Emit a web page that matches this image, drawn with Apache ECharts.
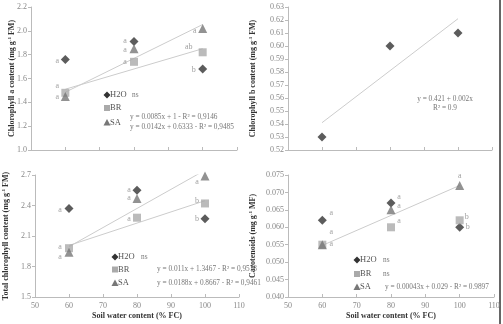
<!DOCTYPE html>
<html>
<head>
<meta charset="utf-8">
<script src="https://cdn.jsdelivr.net/npm/echarts@6/dist/echarts.min.js"></script>
<style>
html, body { margin: 0; padding: 0; background: #fff; }
#main { width: 503px; height: 324px; }
</style>
</head>
<body>
<div id="main"></div>
<script>
// soil water content levels (% FC)
var waterLevels = [60, 80, 100];
var fitX = [60, 100];

// chlorophyll a
var chlA_H2O = [1.76, 1.91, 1.68];
var chlA_BR = [1.48, 1.74, 1.82];
var chlA_SA = [1.45, 1.85, 2.02];
var chlA_H2O_sig = ['a', 'a', 'b'];
var chlA_BR_sig = ['a', 'a', 'ab'];
var chlA_SA_sig = ['a', 'a', 'a'];
var chlA_BR_fit = [1.51, 1.85];
var chlA_SA_fit = [1.485, 2.053];

// chlorophyll b
var chlB_H2O = [0.53, 0.60, 0.61];
var chlB_fit = [0.541, 0.621];

// total chlorophyll
var tot_H2O = [2.37, 2.55, 2.27];
var tot_BR = [1.98, 2.28, 2.42];
var tot_SA = [1.94, 2.47, 2.69];
var tot_H2O_sig = ['a', 'a', 'b'];
var tot_BR_sig = ['a', 'a', 'b'];
var tot_SA_sig = ['a', 'a', 'a'];
var tot_BR_fit = [2.007, 2.447];
var tot_SA_fit = [1.995, 2.747];

// carotenoids
var car_H2O = [0.062, 0.067, 0.060];
var car_BR = [0.055, 0.060, 0.062];
var car_SA = [0.055, 0.065, 0.072];
var car_H2O_sig = ['a', 'a', 'b'];
var car_BR_sig = ['a', 'a', 'b'];
var car_SA_sig = ['a', 'a', 'a'];
var car_SA_fit = [0.0548, 0.072];

var groups = ['H2O', 'BR', 'SA'];

// label placement (px from point centre)
var offA = {
    H2O: [[-8, 1], [-9, -1], [-9, 1]],
    BR: [[-8, -7], [-9, 0], [-14, -5]],
    SA: [[-8, 1], [-9, 1], [-8, 2]]
};
var offT = {
    H2O: [[-9, 1], [-8, 0], [-8, 0]],
    BR: [[-9, -1], [-8, 1], [-8, -3]],
    SA: [[-9, 5], [-8, 0], [-8, 6]]
};
var offC = {
    H2O: [[9, -7], [8, -6], [8, 0]],
    BR: [[9, -13], [8, -6], [7, -3]],
    SA: [[9, -1], [8, -4], [0, -10]]
};

var serif = '"Liberation Serif", "DejaVu Serif", serif';
var sty = {
    H2O: { symbol: 'diamond', size: 9, color: '#333' },
    BR: { symbol: 'rect', size: 8, color: '#aaa' },
    SA: { symbol: 'triangle', size: 9, color: '#777' }
};

var myChart = echarts.init(document.getElementById('main'));

var grids = [
    { left: 31, top: 7, width: 206, height: 143 },
    { left: 288, top: 7, width: 204, height: 143 },
    { left: 32, top: 175, width: 207, height: 122 },
    { left: 288, top: 175, width: 206, height: 122 }
];

function xAx(i, showLabels) {
    return {
        type: 'value', gridIndex: i, min: 50, max: 110, interval: 10,
        axisLine: { lineStyle: { color: '#bbb' } },
        axisTick: { show: true, inside: true, length: 3, lineStyle: { color: '#bbb' } },
        axisLabel: { show: showLabels, color: '#888', fontFamily: serif, fontSize: 8, margin: 5 },
        splitLine: { show: false },
        name: showLabels ? 'Soil water content (% FC)' : '',
        nameLocation: 'middle', nameGap: 15, nameMoveOverlap: false,
        nameTextStyle: { color: '#333', fontFamily: serif, fontSize: 8, fontWeight: 'bold' }
    };
}

function yAx(i, min, max, step, dec, name, gap) {
    return {
        type: 'value', gridIndex: i, min: min, max: max, interval: step,
        axisLine: { show: true, lineStyle: { color: '#bbb' } },
        axisTick: { show: true, length: 3, lineStyle: { color: '#bbb' } },
        axisLabel: {
            color: '#888', fontFamily: serif, fontSize: 8, margin: 4,
            formatter: function (v) { return v.toFixed(dec); }
        },
        splitLine: { show: false },
        name: name, nameLocation: 'middle', nameGap: gap, nameMoveOverlap: false,
        nameTextStyle: {
            color: '#333', fontFamily: serif, fontSize: 8, fontWeight: 'bold',
            rich: { sup: { fontSize: 5, verticalAlign: 'top', fontWeight: 'bold', fontFamily: serif, color: '#333', padding: [0, 0, 4, 0] } }
        }
    };
}

function pts(vals, sig, off) {
    return vals.map(function (v, k) {
        var item = { value: [waterLevels[k], v] };
        if (sig) {
            item.label = { show: true, formatter: sig[k], offset: off[k] };
        }
        return item;
    });
}

function scatter(name, i, vals, sig, off) {
    var s = sty[name];
    return {
        name: name, type: 'scatter', xAxisIndex: i, yAxisIndex: i,
        symbol: s.symbol, symbolSize: s.size,
        itemStyle: { color: s.color },
        label: { position: 'inside', color: '#888', fontFamily: serif, fontSize: 8 },
        data: pts(vals, sig, off), z: 3
    };
}

function fit(i, vals) {
    return {
        type: 'line', xAxisIndex: i, yAxisIndex: i, symbol: 'none', silent: true,
        lineStyle: { color: '#ccc', width: 1 }, clip: true,
        data: fitX.map(function (x, k) { return [x, vals[k]]; }), z: 2
    };
}

function txt(x, y, s, align, size, color) {
    return {
        type: 'text', x: x, y: y, silent: true,
        style: {
            text: s, fill: color || '#777', font: (size || 7.3) + 'px ' + serif,
            align: align || 'left', verticalAlign: 'middle'
        }
    };
}

// small legend key: marker + group name
function key(name, cx, cy) {
    var c = sty[name].color, shape;
    if (name === 'H2O') {
        shape = { type: 'polygon', shape: { points: [[cx, cy - 3.5], [cx + 3.5, cy], [cx, cy + 3.5], [cx - 3.5, cy]] }, style: { fill: c } };
    } else if (name === 'BR') {
        shape = { type: 'rect', shape: { x: cx - 3, y: cy - 3, width: 6, height: 6 }, style: { fill: c } };
    } else {
        shape = { type: 'polygon', shape: { points: [[cx, cy - 3.5], [cx + 3.5, cy + 3], [cx - 3.5, cy + 3]] }, style: { fill: c } };
    }
    return [shape, txt(cx + 3, cy, name, 'left', 8.5, '#555')];
}

function legendBlock(cx, ys) {
    var out = [];
    groups.forEach(function (g, k) { out = out.concat(key(g, cx, ys[k])); });
    return out;
}

var graphics = []
    .concat(legendBlock(107, [95, 108, 122.5]))
    .concat(legendBlock(115, [257, 269.5, 283]))
    .concat(legendBlock(357, [260, 274, 287]))
    .concat([
        txt(132, 95, 'ns'),
        txt(130, 116.7, 'y = 0.0085x + 1 - R² = 0,9146'),
        txt(130, 127.3, 'y = 0.0142x + 0.6333 - R² = 0,9485'),
        txt(445, 99.3, 'y = 0.421 + 0.002x', 'center'),
        txt(445, 107.7, 'R² = 0.9', 'center'),
        txt(141, 257, 'ns'),
        txt(157, 269.5, 'y = 0.011x + 1.3467 - R² = 0,9578'),
        txt(157, 283, 'y = 0.0188x + 0.8667 - R² = 0,9461'),
        txt(383, 260, 'ns'),
        txt(383, 274, 'ns'),
        txt(385, 287, 'y = 0.00043x + 0.029 - R² = 0.9897'),
        { type: 'rect', x: 499, y: 0, shape: { width: 2, height: 324 }, style: { fill: '#666' } }
    ]);

option = {
    animation: false,
    grid: grids,
    xAxis: [xAx(0, false), xAx(1, false), xAx(2, true), xAx(3, true)],
    yAxis: [
        yAx(0, 1.0, 2.2, 0.2, 1, 'Chlorophyll a content (mg g{sup|-1} FM)', 15),
        yAx(1, 0.52, 0.63, 0.01, 2, 'Chlorophyll b content (mg g{sup|-1} FM)', 31),
        yAx(2, 1.5, 2.7, 0.3, 1, 'Total chlorophyll content (mg g{sup|-1} FM)', 25),
        yAx(3, 0.040, 0.075, 0.005, 3, 'Carotenoids (mg g{sup|-1} MF)', 31)
    ],
    series: [
        fit(0, chlA_BR_fit), fit(0, chlA_SA_fit),
        scatter('H2O', 0, chlA_H2O, chlA_H2O_sig, offA.H2O),
        scatter('BR', 0, chlA_BR, chlA_BR_sig, offA.BR),
        scatter('SA', 0, chlA_SA, chlA_SA_sig, offA.SA),

        fit(1, chlB_fit),
        scatter('H2O', 1, chlB_H2O, null, null),

        fit(2, tot_BR_fit), fit(2, tot_SA_fit),
        scatter('H2O', 2, tot_H2O, tot_H2O_sig, offT.H2O),
        scatter('BR', 2, tot_BR, tot_BR_sig, offT.BR),
        scatter('SA', 2, tot_SA, tot_SA_sig, offT.SA),

        fit(3, car_SA_fit),
        scatter('H2O', 3, car_H2O, car_H2O_sig, offC.H2O),
        scatter('BR', 3, car_BR, car_BR_sig, offC.BR),
        scatter('SA', 3, car_SA, car_SA_sig, offC.SA)
    ],
    graphic: graphics
};
myChart.setOption(option);
</script>
</body>
</html>
